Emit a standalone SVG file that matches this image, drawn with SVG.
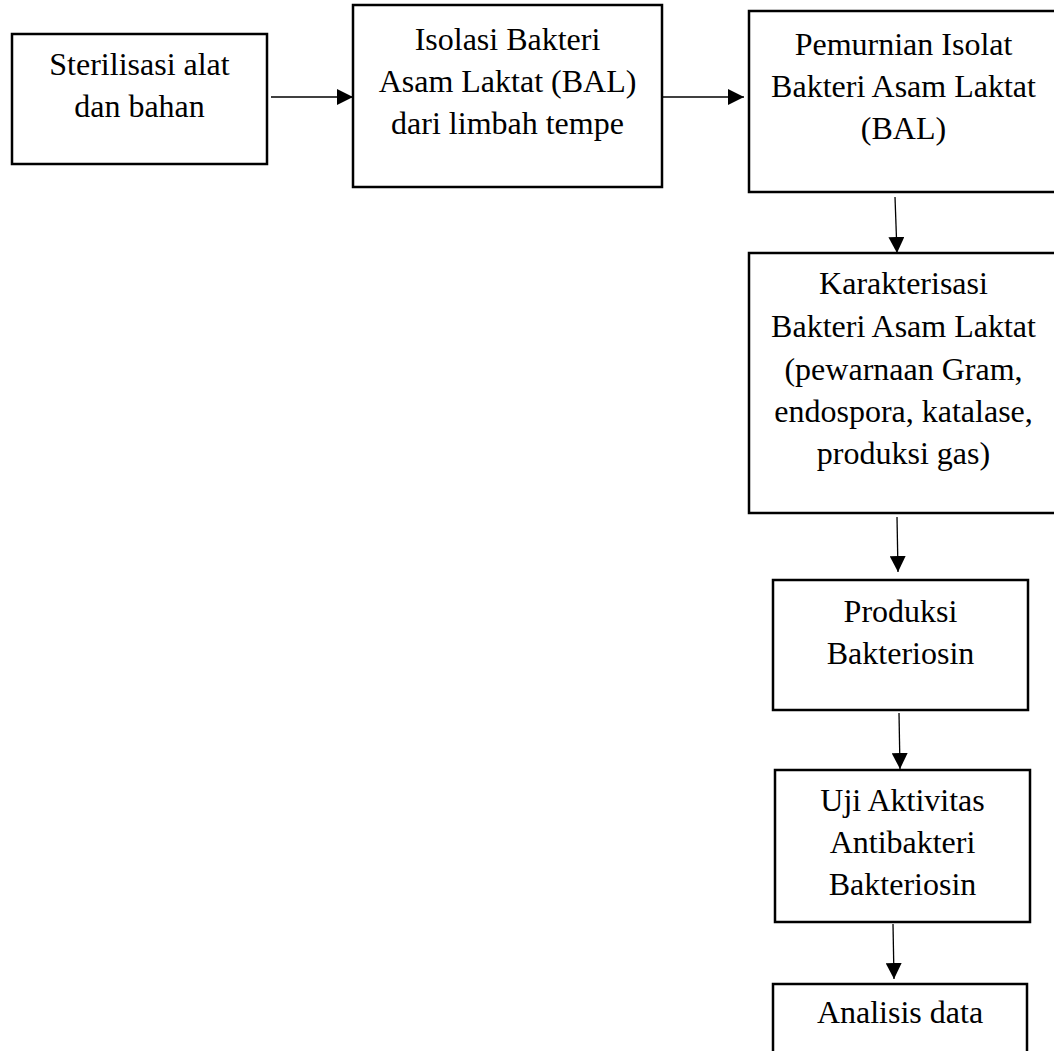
<svg xmlns="http://www.w3.org/2000/svg" width="1054" height="1051" viewBox="0 0 1054 1051">
<style>
.box{fill:#fff;stroke:#000;stroke-width:2.5}
.lbl{font-family:"Liberation Serif","Times New Roman",serif;font-size:32px;fill:#000;text-anchor:middle}
.conn{stroke:#000;stroke-width:1.3;fill:none}
</style>
<defs>
<marker id="ah" viewBox="0 0 16 16" refX="16" refY="8" markerWidth="16" markerHeight="16" markerUnits="userSpaceOnUse" orient="auto">
<path d="M0,0 L16,8 L0,16 Z" fill="#000"/>
</marker>
</defs>
<rect width="1054" height="1051" fill="#fff"/>
<g id="connectors">
<line class="conn" x1="271" y1="97" x2="353" y2="97" marker-end="url(#ah)"/>
<line class="conn" x1="663" y1="97" x2="744" y2="97" marker-end="url(#ah)"/>
<line class="conn" x1="895" y1="197" x2="897" y2="253" marker-end="url(#ah)"/>
<line class="conn" x1="897" y1="517" x2="898" y2="572" marker-end="url(#ah)"/>
<line class="conn" x1="899" y1="713" x2="900" y2="769" marker-end="url(#ah)"/>
<line class="conn" x1="893" y1="924" x2="894" y2="979" marker-end="url(#ah)"/>
</g>
<g id="n1">
<rect class="box" x="12" y="34" width="255" height="130"/>
<text class="lbl" x="139.5" y="75">Sterilisasi alat</text>
<text class="lbl" x="139.5" y="117">dan bahan</text>
</g>
<g id="n2">
<rect class="box" x="353" y="5" width="309" height="182"/>
<text class="lbl" x="507.5" y="50">Isolasi Bakteri</text>
<text class="lbl" x="507.5" y="92">Asam Laktat (BAL)</text>
<text class="lbl" x="507.5" y="134">dari limbah tempe</text>
</g>
<g id="n3">
<rect class="box" x="749" y="11" width="309" height="181"/>
<text class="lbl" x="903.5" y="55">Pemurnian Isolat</text>
<text class="lbl" x="903.5" y="97">Bakteri Asam Laktat</text>
<text class="lbl" x="903.5" y="139">(BAL)</text>
</g>
<g id="n4">
<rect class="box" x="749" y="253" width="309" height="260"/>
<text class="lbl" x="903.5" y="294">Karakterisasi</text>
<text class="lbl" x="903.5" y="337">Bakteri Asam Laktat</text>
<text class="lbl" x="903.5" y="380">(pewarnaan Gram,</text>
<text class="lbl" x="903.5" y="422">endospora, katalase,</text>
<text class="lbl" x="903.5" y="464">produksi gas)</text>
</g>
<g id="n5">
<rect class="box" x="773" y="580" width="255" height="130"/>
<text class="lbl" x="900.5" y="622">Produksi</text>
<text class="lbl" x="900.5" y="664">Bakteriosin</text>
</g>
<g id="n6">
<rect class="box" x="775" y="770" width="255" height="152"/>
<text class="lbl" x="902.5" y="811">Uji Aktivitas</text>
<text class="lbl" x="902.5" y="853">Antibakteri</text>
<text class="lbl" x="902.5" y="895">Bakteriosin</text>
</g>
<g id="n7">
<rect class="box" x="773" y="984" width="254" height="90"/>
<text class="lbl" x="900" y="1023">Analisis data</text>
</g>
</svg>
